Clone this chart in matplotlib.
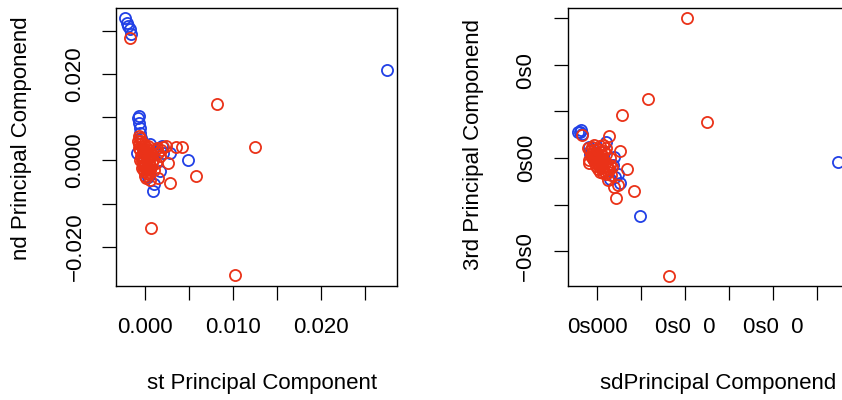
import matplotlib.pyplot as plt

plt.rcParams['font.family'] = ['Liberation Sans', 'DejaVu Sans']

# ---- panel 1: 1st vs 2nd principal component ----
pc1_blue = [-0.0023, -0.0021, -0.0019, -0.0017, -0.0016, 0.0275, 0.0049, 0.0009,
            -0.0007, -0.0008, -0.0007, -0.0006, -0.0006, 0.0006, 0.0028, 0.0017,
            -0.0009, 0.0020, 0.0019, 0.0010, -0.0005, 0.0003]
pc2_blue = [0.0329, 0.0317, 0.0310, 0.0303, 0.0292, 0.0209, 0.0000, -0.0071,
            0.0103, 0.0097, 0.0087, 0.0076, 0.0064, 0.0037, 0.0018, -0.0025,
            0.0018, 0.0016, 0.0034, -0.0055, 0.0052, -0.0038]

pc1_red = [-0.0007, -0.0006, -0.0005, -0.0007, -0.0003, -0.0006, -0.0002, -0.0005,
           -0.0001, -0.0003, 0.0000, -0.0002, 0.0001, -0.0001, 0.0002, 0.0000,
           0.0003, 0.0006, 0.0005, 0.0002, 0.0006, 0.0008, 0.0003, 0.0001,
           -0.0001, 0.0011, 0.0015, 0.0017, 0.0009, 0.0013, 0.0007, 0.0010,
           -0.0007, -0.0008, -0.0006, -0.0003, 0.0001, 0.0014, 0.0018, 0.0003,
           -0.0004, -0.0002, 0.0000, 0.0002, 0.0004, -0.0001, 0.0001, 0.0003,
           0.0005, 0.0004, 0.0006, 0.0008, -0.0004, -0.0002, 0.0000, 0.0002,
           -0.0017, 0.0082, 0.0125, 0.0058, 0.0028, 0.0007, 0.0102, 0.0026,
           0.0042, 0.0035, 0.0024, 0.0020, 0.0006, 0.0015]
pc2_red = [0.0057, 0.0051, 0.0044, 0.0037, 0.0032, 0.0023, 0.0018, 0.0011,
           0.0005, -0.0002, -0.0007, -0.0014, -0.0018, -0.0025, -0.0030, -0.0037,
           -0.0032, -0.0023, -0.0011, 0.0000, 0.0007, 0.0014, 0.0023, 0.0030,
           0.0039, 0.0023, 0.0018, 0.0011, 0.0000, -0.0007, -0.0016, -0.0023,
           0.0028, 0.0046, 0.0000, -0.0018, -0.0041, 0.0028, 0.0025, 0.0034,
           0.0040, 0.0026, 0.0014, 0.0004, -0.0004, -0.0010, -0.0020, -0.0016,
           -0.0027, 0.0010, 0.0018, -0.0004, 0.0008, 0.0002, 0.0020, -0.0012,
           0.0283, 0.0131, 0.0030, -0.0037, -0.0053, -0.0156, -0.0264, -0.0007,
           0.0032, 0.0032, 0.0034, 0.0030, -0.0046, -0.0041]

# ---- panel 2: 2nd vs 3rd principal component ----
pc2b_blue = [-0.0043, -0.0036, -0.0034, -0.0039, 0.0548, 0.0098, 0.0020, 0.0052,
             0.0048, -0.0018, -0.0014, 0.0039, 0.0036, 0.0030, -0.0016, 0.0041]
pc3_blue = [0.0056, 0.0060, 0.0051, 0.0055, -0.0009, -0.0124, 0.0034, -0.0054,
            -0.0034, 0.0024, 0.0017, 0.0002, -0.0015, -0.0045, 0.0008, -0.0040]

pc2b_red = [-0.0020, -0.0016, -0.0011, -0.0007, -0.0002, 0.0002, 0.0007, 0.0011,
            0.0016, 0.0020, -0.0014, -0.0009, -0.0005, 0.0000, 0.0005, 0.0009,
            0.0014, 0.0018, 0.0023, 0.0027, -0.0002, 0.0002, 0.0007, 0.0011,
            0.0016, 0.0020, 0.0025, 0.0030, -0.0007, 0.0007, 0.0020, 0.0030,
            -0.0018, 0.0032, 0.0014,
            -0.0012, -0.0008, -0.0004, 0.0000, 0.0004, 0.0008, 0.0012, -0.0010,
            -0.0006, 0.0003, 0.0010, 0.0017, 0.0004, 0.0013, 0.0022,
            -0.0034, 0.0204, 0.0116, 0.0057, 0.0250, 0.0164, 0.0027, 0.0052,
            0.0068, 0.0084, 0.0043, 0.0039, 0.0048, 0.0034, 0.0025, 0.0014, -0.0018]
pc3_red = [0.0021, 0.0015, 0.0024, 0.0017, 0.0011, 0.0019, 0.0013, 0.0006,
           0.0015, 0.0009, 0.0004, -0.0002, -0.0009, 0.0000, -0.0006, -0.0013,
           -0.0004, -0.0011, -0.0017, -0.0024, -0.0017, -0.0024, -0.0030, -0.0021,
           -0.0028, -0.0034, -0.0030, -0.0015, 0.0028, 0.0026, 0.0021, 0.0000,
           -0.0004, -0.0036, 0.0028,
           0.0010, 0.0006, 0.0002, 0.0008, 0.0004, 0.0000, -0.0004, 0.0000,
           -0.0005, -0.0010, -0.0008, -0.0006, -0.0018, -0.0020, -0.0022,
           0.0049, 0.0300, 0.0126, 0.0092, 0.0077, -0.0253, 0.0047, 0.0015,
           -0.0024, -0.0071, -0.0086, -0.0062, -0.0058, -0.0019, -0.0047, -0.0032, -0.0011]

# tick labels as they appear in the original
left_xticks = [0.0, 0.005, 0.010, 0.015, 0.020, 0.025]
left_xlabels = ['0.000', '', '0.010', '', '0.020', '']
left_yticks = [-0.02, -0.01, 0.0, 0.01, 0.02, 0.03]
left_ylabels = ['\u22120.020', '', '0.000', '', '0.020', '']
right_xticks = [0.0, 0.01, 0.02, 0.03, 0.04, 0.05]
right_xlabels = ['0s000', '', '0s0  0', '', '0s0  0', '']
right_yticks = [-0.02, -0.01, 0.0, 0.01, 0.02, 0.03]
right_ylabels = ['\u22120s0  ', '', '0s00', '', '0s0  ', '']

BLUE = '#2140e6'
RED = '#ea3218'

fig = plt.figure(figsize=(8.42, 4.0), dpi=100)
ax1 = fig.add_axes([116 / 842, 114 / 400, 281 / 842, 278 / 400])
ax2 = fig.add_axes([568 / 842, 114 / 400, 281 / 842, 278 / 400])

def style(ax, xt, xl, yt, yl):
    ax.set_xticks(xt)
    ax.set_xticklabels(xl)
    ax.set_yticks(yt)
    ax.set_yticklabels(yl, rotation=90, va='center')
    ax.tick_params(direction='out', length=10, width=0.9, labelsize=16, pad=12,
                   colors='black')
    for s in ax.spines.values():
        s.set_linewidth(1.0)

for ax, bx, by, rx, ry in [(ax1, pc1_blue, pc2_blue, pc1_red, pc2_red),
                           (ax2, pc2b_blue, pc3_blue, pc2b_red, pc3_red)]:
    ax.plot(bx, by, 'o', mfc='none', mec=BLUE, ms=8, mew=1.3, clip_on=False)
    ax.plot(rx, ry, 'o', mfc='none', mec=RED, ms=8, mew=1.3, clip_on=False)

ax1.set_xlim(-0.0033, 0.02864)
ax1.set_ylim(-0.029, 0.0352)
style(ax1, left_xticks, left_xlabels, left_yticks, left_ylabels)

ax2.set_xlim(-0.0066, 0.0573)
ax2.set_ylim(-0.0274, 0.0321)
style(ax2, right_xticks, right_xlabels, right_yticks, right_ylabels)

fig.text(262 / 842, 1 - 383 / 400, 'st Principal Component', fontsize=16,
         ha='center', va='center')
fig.text(22 / 842, 1 - 138 / 400, 'nd Principal Componend', fontsize=16,
         ha='center', va='center', rotation=90)
fig.text(718 / 842, 1 - 383 / 400, 'sdPrincipal Componend', fontsize=16,
         ha='center', va='center')
fig.text(473 / 842, 1 - 145 / 400, '3rd Principal Componend', fontsize=16,
         ha='center', va='center', rotation=90)

fig.savefig('out.png', dpi=100)
